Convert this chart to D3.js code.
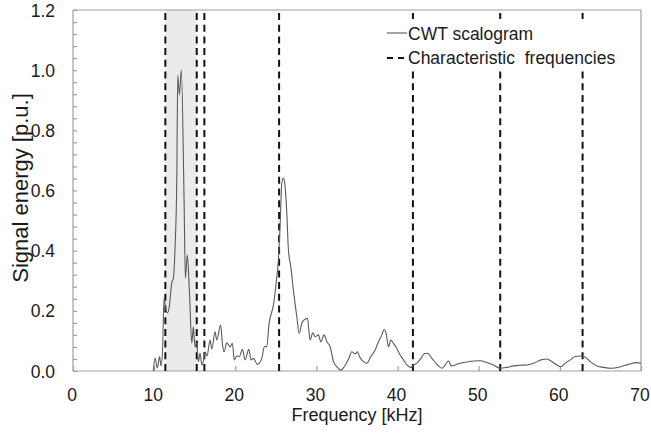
<!DOCTYPE html>
<html>
<head>
<meta charset="utf-8">
<script src="https://cdn.jsdelivr.net/npm/d3@7"></script>
<style>
  html, body { margin: 0; padding: 0; background: #fff; }
  svg { display: block; font-family: "Liberation Sans", Arial, sans-serif; }
</style>
</head>
<body>
<svg id="chart" width="651" height="433"></svg>
<script>
// CWT scalogram: frequency (kHz) and normalised signal energy (p.u.)
const frequency = [
  9.90, 10.11, 10.39, 10.67, 10.85, 11.04, 11.22, 11.38, 11.63, 11.87,
  12.17, 12.37, 12.58, 12.79, 12.91, 13.11, 13.35, 13.69, 13.85, 14.09,
  14.34, 14.64, 14.83, 15.04, 15.25, 15.45, 15.66, 15.87, 16.15, 16.28,
  16.52, 16.89, 17.10, 17.51, 17.72, 18.19, 18.43, 18.62, 18.95, 19.36,
  19.64, 19.89, 20.18, 20.51, 20.88, 21.21, 21.66, 21.95, 22.23, 22.73,
  23.27, 23.59, 23.88, 24.17, 24.50, 24.70, 25.03, 25.31, 25.52, 25.73,
  25.93, 26.14, 26.35, 26.55, 26.84, 27.16, 27.58, 27.87, 28.20, 28.48,
  28.89, 29.22, 29.56, 29.84, 30.25, 30.54, 30.95, 31.28, 31.69, 32.10,
  32.52, 33.01, 33.42, 33.95, 34.37, 34.77, 35.06, 35.30, 35.80, 36.21,
  36.71, 37.24, 37.64, 38.06, 38.35, 38.59, 38.88, 39.17, 39.49, 39.91,
  40.32, 40.73, 41.15, 41.64, 41.96, 42.38, 42.87, 43.28, 43.69, 44.23,
  44.92, 45.46, 45.87, 46.28, 46.61, 47.10, 47.72, 48.54, 49.36, 50.18,
  51.01, 51.82, 52.65, 53.48, 54.29, 55.12, 55.94, 56.76, 57.67, 58.41,
  59.03, 59.64, 60.14, 60.67, 61.28, 61.90, 62.52, 63.13, 63.75, 64.57,
  65.39, 66.42, 67.45, 68.47, 69.51, 70.00
];
const energy = [
  0.000, 0.043, 0.010, 0.048, 0.017, 0.070, 0.243, 0.214, 0.193, 0.214,
  0.293, 0.309, 0.413, 0.635, 0.984, 0.918, 1.000, 0.568, 0.309, 0.386,
  0.269, 0.093, 0.147, 0.081, 0.093, 0.031, 0.060, 0.020, 0.043, 0.063,
  0.050, 0.103, 0.073, 0.130, 0.103, 0.153, 0.086, 0.064, 0.094, 0.081,
  0.092, 0.037, 0.050, 0.048, 0.072, 0.037, 0.072, 0.037, 0.042, 0.022,
  0.042, 0.081, 0.081, 0.159, 0.197, 0.219, 0.292, 0.369, 0.480, 0.624,
  0.641, 0.613, 0.524, 0.402, 0.347, 0.269, 0.181, 0.125, 0.159, 0.170,
  0.175, 0.103, 0.127, 0.114, 0.120, 0.097, 0.120, 0.097, 0.081, 0.031,
  0.014, 0.003, 0.014, 0.039, 0.064, 0.057, 0.064, 0.048, 0.031, 0.026,
  0.048, 0.070, 0.097, 0.120, 0.139, 0.125, 0.081, 0.103, 0.092, 0.075,
  0.053, 0.037, 0.020, 0.012, 0.020, 0.026, 0.042, 0.057, 0.059, 0.042,
  0.020, 0.009, 0.020, 0.033, 0.017, 0.020, 0.026, 0.030, 0.033, 0.034,
  0.028, 0.020, 0.009, 0.012, 0.017, 0.019, 0.020, 0.026, 0.037, 0.040,
  0.031, 0.020, 0.014, 0.026, 0.037, 0.048, 0.050, 0.046, 0.031, 0.017,
  0.012, 0.009, 0.014, 0.022, 0.028, 0.026
];

// Characteristic frequencies (kHz) and the shaded band between the first two
const characteristicFrequencies = [11.38, 15.25, 16.19, 25.40, 41.89, 52.65, 62.80];
const bandRange = [11.38, 15.25];

const xTicks = [0, 10, 20, 30, 40, 50, 60, 70];
const yTicks = [0, 0.2, 0.4, 0.6, 0.8, 1.0, 1.2];
const legendLabels = ["CWT scalogram", "Characteristic  frequencies"];

const svg = d3.select("#chart");
const plotLeft = 73, plotRight = 641, plotTop = 10, plotBottom = 371;

const x = d3.scaleLinear().domain([0, 70]).range([plotLeft, plotRight]);
const y = d3.scaleLinear().domain([0, 1.2]).range([plotBottom, plotTop]);

const axisColor = "#a0a0a0";
const textColor = "#1a1a1a";
const tickFont = 17.5;

// shaded band
svg.append("rect")
  .attr("x", x(bandRange[0]))
  .attr("y", plotTop)
  .attr("width", x(bandRange[1]) - x(bandRange[0]))
  .attr("height", plotBottom - plotTop)
  .attr("fill", "#ebebeb");

// frame: top and right edges
svg.append("path")
  .attr("d", `M${plotLeft},${plotTop}H${plotRight}V${plotBottom}`)
  .attr("fill", "none")
  .attr("stroke", axisColor)
  .attr("stroke-width", 1.2);

// y axis with inward minor ticks
const yMinor = d3.range(0, 1.2001, 0.04);
const yAxis = svg.append("g")
  .attr("transform", `translate(${plotLeft},0)`)
  .call(d3.axisRight(y).tickValues(yMinor).tickSize(4).tickFormat(""));
yAxis.selectAll("path, line").attr("stroke", axisColor).attr("stroke-width", 1.2);
yAxis.select(".domain").attr("d", `M0,${plotTop}V${plotBottom}`);

svg.append("g")
  .selectAll("text")
  .data(yTicks)
  .join("text")
  .attr("x", plotLeft - 18)
  .attr("y", d => y(d) + 6.5)
  .attr("text-anchor", "end")
  .attr("font-size", tickFont)
  .attr("fill", textColor)
  .text(d => d3.format(".1f")(d));

// x axis with inward ticks
const xAxis = svg.append("g")
  .attr("transform", `translate(0,${plotBottom})`)
  .call(d3.axisTop(x).tickValues(xTicks).tickSize(5).tickFormat(""));
xAxis.selectAll("path, line").attr("stroke", axisColor).attr("stroke-width", 1.2);
xAxis.select(".domain").attr("d", `M${plotLeft},0H${plotRight}`);

svg.append("g")
  .selectAll("text")
  .data(xTicks)
  .join("text")
  .attr("x", d => x(d) - 1)
  .attr("y", plotBottom + 29.5)
  .attr("text-anchor", "middle")
  .attr("font-size", tickFont)
  .attr("fill", textColor)
  .text(d => d);

// axis titles
svg.append("text")
  .attr("x", (plotLeft + plotRight) / 2)
  .attr("y", 421)
  .attr("text-anchor", "middle")
  .attr("font-size", 18)
  .attr("fill", textColor)
  .text("Frequency [kHz]");

svg.append("text")
  .attr("transform", `translate(27.5,188) rotate(-90)`)
  .attr("text-anchor", "middle")
  .attr("font-size", 22)
  .attr("fill", textColor)
  .text("Signal energy [p.u.]");

// characteristic frequency markers
svg.append("g")
  .selectAll("line")
  .data(characteristicFrequencies)
  .join("line")
  .attr("x1", d => x(d)).attr("x2", d => x(d))
  .attr("y1", plotTop + 3).attr("y2", plotBottom)
  .attr("stroke", "#111")
  .attr("stroke-width", 2)
  .attr("stroke-dasharray", "7,4.7");

// scalogram curve
const line = d3.line()
  .x((d, i) => x(frequency[i]))
  .y(d => y(d))
  .curve(d3.curveMonotoneX);

svg.append("path")
  .datum(energy)
  .attr("d", line)
  .attr("fill", "none")
  .attr("stroke", "#5a5a5a")
  .attr("stroke-width", 1.1);

// legend
const legend = svg.append("g");
legend.append("rect")
  .attr("x", 380).attr("y", 19)
  .attr("width", 258).attr("height", 48)
  .attr("fill", "#fff");
legend.append("line")
  .attr("x1", 387).attr("x2", 407)
  .attr("y1", 33).attr("y2", 33)
  .attr("stroke", "#5a5a5a").attr("stroke-width", 1.1);
legend.append("line")
  .attr("x1", 387).attr("x2", 404)
  .attr("y1", 58).attr("y2", 58)
  .attr("stroke", "#111").attr("stroke-width", 2)
  .attr("stroke-dasharray", "6,5");
legend.selectAll("text.lbl")
  .data(legendLabels)
  .join("text")
  .attr("class", "lbl")
  .attr("x", 408)
  .attr("y", (d, i) => 39.5 + i * 24.5)
  .attr("font-size", tickFont)
  .attr("fill", textColor)
  .style("white-space", "pre")
  .text(d => d);
</script>
</body>
</html>
